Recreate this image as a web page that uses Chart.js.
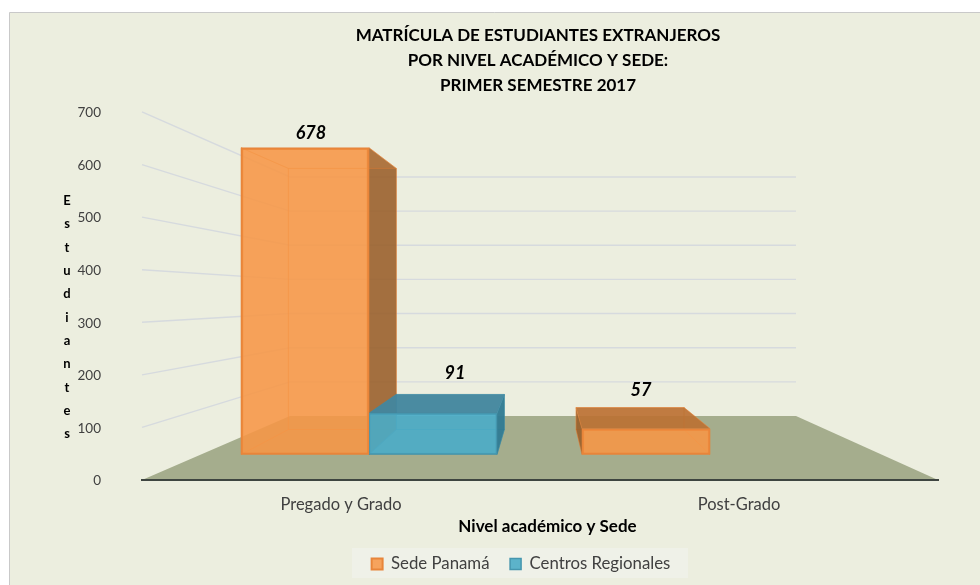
<!DOCTYPE html>
<html>
<head>
<meta charset="utf-8">
<style>html,body{margin:0;padding:0;background:#fff}#w{width:980px;height:585px;position:relative}</style>
<script src="https://cdn.jsdelivr.net/npm/chart.js@4"></script>
</head>
<body>
<div id="w"><canvas id="c" width="980" height="585"></canvas></div>
<script>
const categories = ['Pregado y Grado', 'Post-Grado'];
const sedePanama = [678, 57];
const centrosRegionales = [91, null];
const yTicks = [0, 100, 200, 300, 400, 500, 600, 700];
const titleLines = ['MATRÍCULA DE ESTUDIANTES EXTRANJEROS', 'POR NIVEL ACADÉMICO Y SEDE:', 'PRIMER SEMESTRE 2017'];
const xTitle = 'Nivel académico y Sede';
const yTitle = 'Estudiantes';

const FONT = 'Lato, Carlito, sans-serif';
const BG = '#ECEEDF';

// perspective settings of the fake 3D scene
const VX = 544, SX = 0.84375;            // horizontal shrink of bar back faces
const BAR_DEPTH = 25, SY = 0.851;        // vertical shift / shrink of bar back faces
const WALL_X0 = 290, WALL_X1 = 796, WALL_K = 0.6495, WALL_DROP = 64;

const looks = [
  { tint: '247,150,70', dark: 'rgba(150,92,40,0.86)', darkTop: 'rgba(186,112,50,0.9)', line: 'rgba(232,132,58,0.4)' },
  { tint: '75,172,198', dark: 'rgba(48,122,146,0.95)', darkTop: 'rgba(66,134,158,0.95)', line: 'rgba(60,140,165,0.5)' }
];

function poly(ctx, pts, fill, stroke) {
  ctx.beginPath();
  pts.forEach((p, i) => i ? ctx.lineTo(p[0], p[1]) : ctx.moveTo(p[0], p[1]));
  ctx.closePath();
  if (fill) { ctx.fillStyle = fill; ctx.fill(); }
  if (stroke) { ctx.strokeStyle = stroke; ctx.lineWidth = 1; ctx.stroke(); }
}

let shifted = false;
const scene = {
  id: 'scene',
  beforeDraw(chart) {
    const ctx = chart.ctx, a = chart.chartArea, sy = chart.scales.y;
    if (!shifted) {
      shifted = true;
      chart.titleBlock.left -= 4;
      chart.legend.left -= 38; // legend sits left of the plot centre
      const sx = chart.scales.x, drawTitle = sx.drawTitle;
      sx.drawTitle = function () { // axis title sits right of the plot centre
        ctx.save(); ctx.translate(7.5, 0); drawTitle.call(sx); ctx.restore();
      };
    }
    ctx.save();
    ctx.fillStyle = BG;
    ctx.fillRect(9.5, 12.5, 971, 573);
    ctx.strokeStyle = '#C9C9C9'; ctx.lineWidth = 1;
    ctx.beginPath(); ctx.moveTo(9.5, 585); ctx.lineTo(9.5, 12.5); ctx.lineTo(980, 12.5); ctx.stroke();
    // floor
    const fb = a.bottom - WALL_DROP;
    poly(ctx, [[a.left, a.bottom], [WALL_X0, fb], [WALL_X1, fb], [a.right, a.bottom]], '#A5AD8D');
    // walls
    ctx.strokeStyle = '#D6DADE'; ctx.lineWidth = 1.4;
    yTicks.forEach(v => {
      if (v === 0) return;
      const p = sy.getPixelForValue(v);
      const wy = fb - (a.bottom - p) * WALL_K;
      ctx.beginPath(); ctx.moveTo(a.left, p); ctx.lineTo(WALL_X0, wy); ctx.lineTo(WALL_X1, wy); ctx.stroke();
    });
    // legend plate
    ctx.fillStyle = '#EFF1E8';
    ctx.fillRect(352, 548, 336, 30);
    // stacked vertical axis title
    ctx.fillStyle = '#000'; ctx.font = 'bold 13px ' + FONT;
    ctx.textAlign = 'center'; ctx.textBaseline = 'middle';
    [...yTitle].forEach((ch, i) => ctx.fillText(ch, 67, 201 + i * 23.3));
    ctx.restore();
  },
  beforeDatasetsDraw(chart) {
    const ctx = chart.ctx;
    ctx.save();
    chart.data.datasets.forEach((ds, di) => {
      const look = looks[di];
      chart.getDatasetMeta(di).data.forEach((bar, i) => {
        if (ds.data[i].y === null) return;
        const { x, y, base, width } = bar.getProps(['x', 'y', 'base', 'width'], true);
        const l = x - width / 2, r = x + width / 2, t = y, b = base;
        const L = VX + (l - VX) * SX, R = VX + (r - VX) * SX;
        const B = b - BAR_DEPTH, T = B - (b - t) * SY;
        const soft = 'rgba(' + look.tint + ',0.14)';
        poly(ctx, [[L, T], [R, T], [R, B], [L, B]], soft, look.line);
        poly(ctx, [[l, b], [r, b], [R, B], [L, B]], soft, look.line);
        poly(ctx, [[l, t], [L, T], [L, B], [l, b]], L < l ? look.dark : soft, look.line);
        poly(ctx, [[r, t], [R, T], [R, B], [r, b]], R > r ? look.dark : soft, look.line);
        poly(ctx, [[l, t], [r, t], [R, T], [L, T]], T < t ? look.darkTop : soft, look.line);
      });
    });
    ctx.restore();
  },
  afterDatasetsDraw(chart) {
    const ctx = chart.ctx;
    const shift = [[[6, -15], [-5, -39]], [[22, -40], [0, 0]]];
    ctx.save();
    ctx.fillStyle = '#000'; ctx.font = 'italic bold 18px ' + FONT;
    ctx.textAlign = 'center'; ctx.textBaseline = 'middle';
    chart.data.datasets.forEach((ds, di) => {
      chart.getDatasetMeta(di).data.forEach((bar, i) => {
        const v = ds.data[i].y;
        if (v === null) return;
        ctx.fillText(String(v), bar.x + shift[di][i][0], bar.y + shift[di][i][1]);
      });
    });
    ctx.restore();
  }
};

const toPoints = arr => arr.map((v, i) => ({ x: i, y: v }));

new Chart(document.getElementById('c'), {
  type: 'bar',
  plugins: [scene],
  data: {
    labels: categories,
    datasets: [
      { label: 'Sede Panamá', data: toPoints(sedePanama), xAxisID: 'xBars', yAxisID: 'yBars',
        backgroundColor: 'rgba(247,150,70,0.86)', borderColor: '#E8853A', borderWidth: 2, borderSkipped: false, barThickness: 128 },
      { label: 'Centros Regionales', data: toPoints(centrosRegionales), xAxisID: 'xBars', yAxisID: 'yBars',
        backgroundColor: 'rgba(75,172,198,0.9)', borderColor: '#4596AE', borderWidth: 1.5, borderSkipped: false, barThickness: 128 }
    ]
  },
  options: {
    responsive: false,
    animation: false,
    layout: { padding: { left: 10, right: 42, top: 16, bottom: 2.6 } },
    plugins: {
      tooltip: { enabled: false },
      title: {
        display: true, text: titleLines, color: '#000', fullSize: false,
        font: { family: FONT, size: 17, weight: 'bold', lineHeight: 1.47 },
        padding: { top: 7.5, bottom: 13.5 }
      },
      legend: {
        position: 'bottom', fullSize: false,
        labels: { boxWidth: 11, boxHeight: 11, color: '#404040', padding: 20.6, font: { family: FONT, size: 16.8 } }
      }
    },
    scales: {
      x: {
        type: 'category', offset: true, position: 'bottom',
        afterFit: s => { s.height = 55; },
        grid: { display: false, drawTicks: false },
        border: { display: true, color: '#3E4540', width: 2 },
        ticks: { color: '#404040', padding: 15, font: { family: FONT, size: 16.5 } },
        title: { display: true, text: xTitle, color: '#000', padding: { top: 0, bottom: -0.5 }, font: { family: FONT, size: 17, weight: 'bold', lineHeight: 1 } }
      },
      y: {
        type: 'linear', position: 'left', min: 0, max: 700,
        afterBuildTicks: s => { s.ticks = yTicks.map(v => ({ value: v })); },
        afterFit: s => { s.width = 132; },
        grid: { display: false, drawTicks: false },
        border: { display: false },
        ticks: { color: '#404040', padding: 41, labelOffset: 1, font: { family: FONT, size: 13.5 } }
      },
      xBars: { type: 'linear', axis: 'x', display: false, offset: false, min: -0.6657, max: 1.6686 },
      yBars: { type: 'linear', axis: 'y', display: false, min: -56.35, max: 757 }
    }
  }
});
</script>
</body>
</html>
